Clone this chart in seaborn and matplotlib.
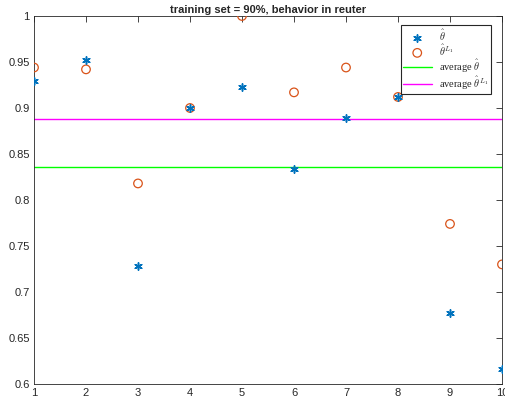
import numpy as np
import pandas as pd
import seaborn as sns
import matplotlib.pyplot as plt

# data
runs = [1, 2, 3, 4, 5, 6, 7, 8, 9, 10]
theta = [0.929, 0.952, 0.728, 0.900, 0.923, 0.834, 0.889, 0.912, 0.677, 0.616]
theta_l1 = [0.944, 0.942, 0.818, 0.900, 1.000, 0.917, 0.944, 0.912, 0.774, 0.730]
y_ticks = [0.6, 0.65, 0.7, 0.75, 0.8, 0.85, 0.9, 0.95, 1.0]
y_labels = ["0.6", "0.65", "0.7", "0.75", "0.8", "0.85", "0.9", "0.95", "1"]

df = pd.DataFrame({"run": runs, "theta": theta, "theta_l1": theta_l1})

sns.set_style("white")
plt.rcParams["font.family"] = ["Liberation Sans", "DejaVu Sans"]
plt.rcParams["mathtext.fontset"] = "cm"

fig = plt.figure(figsize=(5.05, 4.09), dpi=100)
ax = fig.add_axes([34 / 505, 25 / 409, 468 / 505, 368 / 409])

sns.scatterplot(data=df, x="run", y="theta", marker=(6, 2, 0), s=28, color="#0072BD",
                edgecolor="#0072BD", linewidth=1.1, label=r"$\hat{\theta}$", ax=ax, zorder=4)
sns.scatterplot(data=df, x="run", y="theta_l1", marker="o", s=38, facecolor="none",
                edgecolor="#D95319", linewidth=0.9, label=r"$\hat{\theta}^{L_1}$", ax=ax, zorder=3)
ax.axhline(np.mean(theta), color="#00FF00", lw=1.0, label=r"average $\hat{\theta}$")
ax.axhline(np.mean(theta_l1), color="#FF00FF", lw=1.0, label=r"average $\hat{\theta}^{L_1}$")

ax.set_xlim(1, 10)
ax.set_ylim(0.6, 1.0)
ax.set_xticks(runs)
ax.set_xticklabels([str(r) for r in runs])
ax.set_yticks(y_ticks)
ax.set_yticklabels(y_labels)
ax.set_xlabel("")
ax.set_ylabel("")
ax.tick_params(direction="in", length=4, width=0.6, top=True, right=True,
               labelsize=8, colors="#262626", pad=3)
for s in ax.spines.values():
    s.set_linewidth(0.6)
    s.set_color("#262626")
    s.set_visible(True)

ax.set_title("training set = 90%, behavior in reuter", fontsize=8, fontweight="bold", pad=2)

leg = ax.legend(loc="upper right", bbox_to_anchor=(0.98, 0.98),
                prop={"family": "Liberation Serif", "size": 7.5},
                frameon=True, fancybox=False, edgecolor="#262626", framealpha=1,
                handlelength=2.8, handletextpad=0.7, borderpad=0.2, labelspacing=0.0,
                borderaxespad=0.2)
leg.get_frame().set_linewidth(0.8)

fig.savefig("out.png", dpi=100)
